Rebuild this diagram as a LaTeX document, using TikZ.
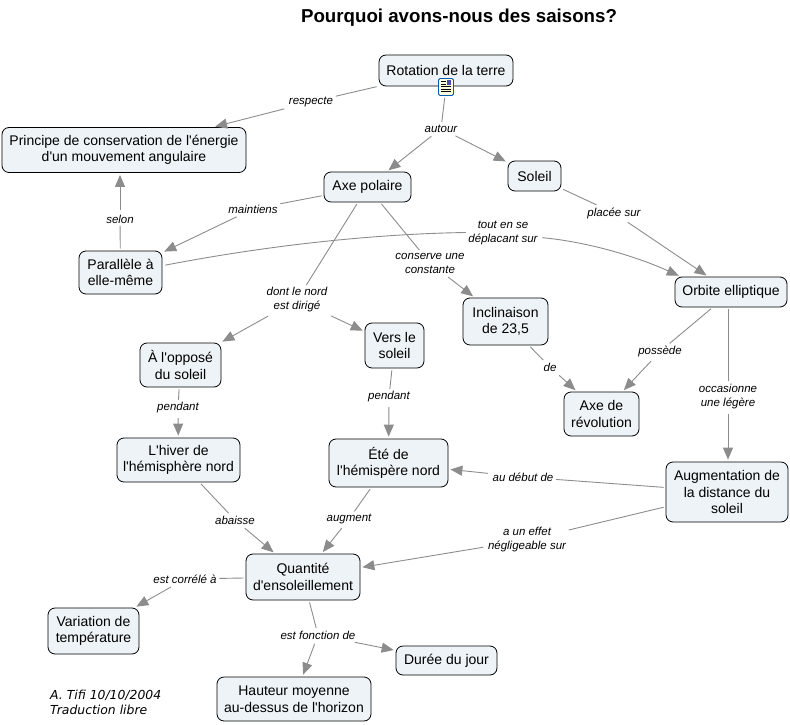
\documentclass[tikz,border=0pt]{standalone}
\usepackage{fontspec}
\setmainfont[Ligatures=TeXOff]{Liberation Sans}
\newfontfamily\notefont{DejaVu Sans}
\usetikzlibrary{arrows.meta}
\definecolor{boxfill}{HTML}{EDF3F6}
\definecolor{linkgray}{HTML}{8C8C8C}
\tikzset{
  concept/.style={draw=black,line width=0.8pt,fill=boxfill,rounded corners=7pt,align=center,
    inner sep=0pt,font=\fontsize{14}{16.5}\selectfont},
  phrase/.style={align=center,inner sep=2.5pt,font=\fontsize{11.5}{14}\selectfont\itshape},
  lnk/.style={draw=linkgray,line width=0.9pt,shorten <=2pt},
  arr/.style={lnk,-{Triangle[length=12pt,width=10pt]},shorten >=2pt},
}
\begin{document}
\begin{tikzpicture}[x=1pt,y=-1pt]
\useasboundingbox (0,0) rectangle (790,725);
\node[font=\fontsize{18.7}{22}\selectfont\bfseries] (titre) at (459,18) {Pourquoi avons-nous des saisons?};

\node[concept,minimum width=134pt,minimum height=31pt] (rotation) at (446,70.5) {Rotation de la terre};
\node[concept,minimum width=244pt,minimum height=45pt] (principe) at (124,150) {Principe de conservation de l'énergie\\d'un mouvement angulaire};
\node[concept,minimum width=87pt,minimum height=30pt] (axe) at (367.5,187) {Axe polaire};
\node[concept,minimum width=53pt,minimum height=30pt] (soleil) at (534.5,176) {Soleil};
\node[concept,minimum width=83pt,minimum height=43pt] (parallele) at (120.5,272.5) {Parallèle à\\elle-même};
\node[concept,minimum width=112pt,minimum height=30pt] (orbite) at (731,292) {Orbite elliptique};
\node[concept,minimum width=85pt,minimum height=47pt] (inclinaison) at (505.5,321.5) {Inclinaison\\de 23,5};
\node[concept,minimum width=59pt,minimum height=45pt] (vers) at (394.5,345.5) {Vers le\\soleil};
\node[concept,minimum width=81pt,minimum height=44pt] (oppose) at (180.5,365) {À l'opposé\\du soleil};
\node[concept,minimum width=75pt,minimum height=44pt] (revolution) at (601.5,414) {Axe de\\révolution};
\node[concept,minimum width=123pt,minimum height=44pt] (hiver) at (178.5,460) {L'hiver de\\l'hémisphère nord};
\node[concept,minimum width=119pt,minimum height=48pt] (ete) at (388.5,463) {Été de\\l'hémispère nord};
\node[concept,minimum width=122pt,minimum height=60pt] (augmentation) at (727,492) {Augmentation de\\la distance du\\soleil};
\node[concept,minimum width=114pt,minimum height=46pt] (quantite) at (303,577) {Quantité\\d'ensoleillement};
\node[concept,minimum width=91pt,minimum height=46pt] (variation) at (93.5,631) {Variation de\\température};
\node[concept,minimum width=101pt,minimum height=29pt] (duree) at (446.5,660.5) {Durée du jour};
\node[concept,minimum width=154pt,minimum height=44pt] (hauteur) at (294,699) {Hauteur moyenne\\au-dessus de l'horizon};

\node[draw=blue!50!cyan!70!black,line width=0.9pt,fill=yellow!12,rounded corners=1.5pt,minimum width=15pt,minimum height=17pt,inner sep=0pt] (icone) at (446,87) {};
\fill[blue!40!gray] (446.5,80.5) rectangle (451,85);
\draw[black,line width=0.8pt] (441,81.5) -- (445.5,81.5) (441,84) -- (445.5,84) (441,86.5) -- (451,86.5) (441,89) -- (451,89) (441,91.5) -- (451,91.5);

\node[phrase] (respecte) at (311,102) {respecte};
\node[phrase] (autour) at (441,128.5) {autour};
\node[phrase] (maintiens) at (253,209) {maintiens};
\node[phrase] (selon) at (120,219) {selon};
\node[phrase] (placee) at (614,213) {placée sur};
\node[phrase] (tout) at (503,232.5) {tout en se\\déplacant sur};
\node[phrase] (conserve) at (430,263) {conserve une\\constante};
\node[phrase] (dont) at (297,300) {dont le nord\\est dirigé};
\node[phrase] (de) at (550,367) {de};
\node[phrase] (possede) at (660,351.5) {possède};
\node[phrase] (occasionne) at (728,396.5) {occasionne\\une légère};
\node[phrase] (pendantg) at (178,408) {pendant};
\node[phrase] (pendantd) at (389,397) {pendant};
\node[phrase] (abaisse) at (235,520) {abaisse};
\node[phrase] (augment) at (349,519) {augment};
\node[phrase] (debut) at (523,477) {au début de};
\node[phrase] (effet) at (527,540) {a un effet\\négligeable sur};
\node[phrase] (correle) at (185,579) {est corrélé à};
\node[phrase] (fonction) at (318,635) {est fonction de};

\node[anchor=north west,align=left,inner sep=0pt,font=\notefont\fontsize{12.4}{15}\selectfont\itshape] (note) at (50,690) {A. Tifi 10/10/2004\\Traduction libre};

\draw[lnk] (rotation) -- (respecte);
\draw[arr] (respecte) -- (principe);
\draw[lnk] (icone) -- (autour);
\draw[arr] (autour) -- (axe);
\draw[arr] (autour) -- (soleil);
\draw[lnk] (axe) -- (maintiens);
\draw[arr] (maintiens) -- (parallele);
\draw[lnk] (parallele) -- (selon);
\draw[arr] (selon) -- (principe.south -| selon);
\draw[lnk] (soleil) -- (placee);
\draw[arr] (placee) -- (orbite);
\draw[lnk] ([shift={(1,-7)}]parallele.east) .. controls (265,246) and (370,234) .. (tout.west);
\draw[arr] ([yshift=-5pt]tout.east) .. controls (590,242) and (640,258) .. ([xshift=6pt]orbite.north west);
\draw[lnk] (axe) -- (conserve);
\draw[arr] (conserve) -- (inclinaison);
\draw[lnk] (axe) -- (dont);
\draw[arr] (dont) -- (oppose);
\draw[arr] (dont) -- (vers);
\draw[lnk] (inclinaison) -- (de);
\draw[arr] (de) -- (revolution);
\draw[lnk] (orbite) -- (possede);
\draw[arr] (possede) -- (revolution);
\draw[lnk] (orbite.south -| occasionne) -- (occasionne);
\draw[arr] (occasionne) -- (augmentation.north -| occasionne);
\draw[lnk] (oppose) -- (pendantg);
\draw[arr] (pendantg) -- (hiver);
\draw[lnk] (vers) -- (pendantd);
\draw[arr] (pendantd) -- (ete);
\draw[lnk] (hiver) -- (abaisse);
\draw[arr] (abaisse) -- (quantite);
\draw[lnk] (ete) -- (augment);
\draw[arr] (augment) -- (quantite);
\draw[lnk] (augmentation) -- (debut);
\draw[arr] (debut) -- (ete);
\draw[lnk] (augmentation) -- (effet);
\draw[arr] (effet) -- (quantite);
\draw[lnk] (quantite) -- (correle);
\draw[arr] (correle) -- (variation);
\draw[lnk] (quantite) -- (fonction);
\draw[arr] (fonction) -- (duree);
\draw[arr] (fonction) -- (hauteur);
\end{tikzpicture}
\end{document}
